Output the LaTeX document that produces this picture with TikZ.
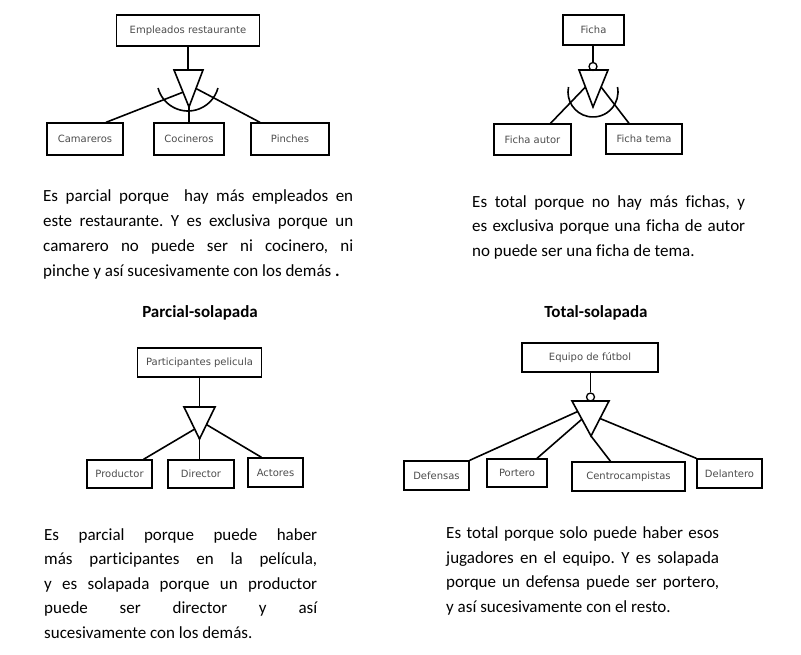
\documentclass[tikz,border=0pt]{standalone}
\usepackage{fontspec}
\setmainfont{Carlito}[Ligatures=NoCommon]
\newfontfamily\cajafont{DejaVu Sans}
\usetikzlibrary{calc}
\frenchspacing

\begin{document}
\begin{tikzpicture}[
    x=1pt, y=-1pt,
    caja/.style={rectangle, draw=black, line width=1.3pt, inner sep=0pt,
        font=\cajafont\fontsize{10}{12}\selectfont, text=black!70},
    linea/.style={line width=1.6pt},
    aro/.style={circle, draw=black, line width=1.3pt, inner sep=0pt, minimum size=8pt},
    texto/.style={anchor=base west, inner sep=0pt, align=justify, text width=273pt,
        font=\fontsize{17}{24.5}\selectfont, text=black,
        execute at begin node={\tolerance=10000 \hyphenpenalty=10000\relax}},
    titulo/.style={anchor=base, inner sep=0pt, font=\bfseries\fontsize{17}{20}\selectfont}
    ]
\useasboundingbox (0,0) rectangle (801,655);

%Parcial-exclusiva
\node[caja, minimum width=143pt, minimum height=31pt] (emp) at (188,30.5) {Empleados restaurante};
\node[caja, minimum width=76pt, minimum height=32pt] (cam) at (85,139) {Camareros};
\node[caja, minimum width=70pt, minimum height=32pt] (coc) at (189,139) {Cocineros};
\node[caja, minimum width=78pt, minimum height=32pt] (pin) at (290,139) {Pinches};
\coordinate (t1l) at (174,70);
\coordinate (t1r) at (203,70);
\coordinate (t1a) at (189,107);
\coordinate (a1) at (188,80);
\draw[linea] (t1l) -- (t1r) -- (t1a) -- cycle;
\draw[linea] (emp.south) -- (emp.south |- t1l);
\draw[linea] ([shift={(165:31)}]a1) arc[start angle=165, end angle=15, radius=31];
\draw[linea] ([xshift=21pt]cam.north) -- ($(t1l)!0.6!(t1a)$);
\draw[linea] (t1a |- coc.north) -- (t1a);
\draw[linea] ([xshift=-30pt]pin.north) -- ($(t1r)!0.5!(t1a)$);

%Total-exclusiva
\node[caja, minimum width=61pt, minimum height=30pt] (fic) at (593.5,30) {Ficha};
\node[caja, minimum width=77pt, minimum height=31pt] (aut) at (532.5,139.5) {Ficha autor};
\node[caja, minimum width=76pt, minimum height=30pt] (tem) at (644,139) {Ficha tema};
\node[aro] (o1) at (593,66.5) {};
\coordinate (t2l) at (579,70);
\coordinate (t2r) at (608,70);
\coordinate (t2a) at (593,107);
\coordinate (a2) at (593,92);
\draw[linea] (t2l) -- (t2r) -- (t2a) -- cycle;
\draw[linea] (fic.south -| o1) -- (o1.north);
\draw[linea] ([shift={(191.5:25)}]a2) arc[start angle=191.5, end angle=-11.5, radius=25];
\draw[linea] ([xshift=18pt]aut.north) -- ($(t2l)!0.46!(t2a)$);
\draw[linea] ([xshift=-15pt]tem.north) -- ($(t2r)!0.46!(t2a)$);

%Parcial-solapada
\node[caja, minimum width=124pt, minimum height=29pt] (par) at (199.5,362.5) {Participantes pelicula};
\node[caja, minimum width=65pt, minimum height=28pt] (pro) at (119.5,474) {Productor};
\node[caja, minimum width=66pt, minimum height=28pt] (dir) at (201,474) {Director};
\node[caja, minimum width=55pt, minimum height=29pt] (act) at (275.5,472.5) {Actores};
\coordinate (t3l) at (184,407);
\coordinate (t3r) at (215,407);
\coordinate (t3a) at (199.5,439);
\draw[linea] (t3l) -- (t3r) -- (t3a) -- cycle;
\draw[linea] (par.south) -- (par.south |- t3l);
\draw[linea] ([xshift=24pt]pro.north) -- ($(t3l)!0.69!(t3a)$);
\draw[linea] (t3a |- dir.north) -- (t3a);
\draw[linea] ([xshift=-14pt]act.north) -- ($(t3r)!0.55!(t3a)$);

%Total-solapada
\node[caja, minimum width=136pt, minimum height=29pt] (equ) at (590,357.5) {Equipo de fútbol};
\node[caja, minimum width=65pt, minimum height=29pt] (def) at (436.5,475.5) {Defensas};
\node[caja, minimum width=60pt, minimum height=28pt] (por) at (517,473) {Portero};
\node[caja, minimum width=113pt, minimum height=29pt] (cen) at (628.5,476.5) {Centrocampistas};
\node[caja, minimum width=65pt, minimum height=29pt] (del) at (729.5,473.5) {Delantero};
\node[aro] (o2) at (590.5,397) {};
\coordinate (t4l) at (572,401);
\coordinate (t4r) at (609,401);
\coordinate (t4a) at (591,436);
\draw[linea] (t4l) -- (t4r) -- (t4a) -- cycle;
\draw[linea] (equ.south -| o2) -- (o2.north);
\draw[linea] (def.north east) -- ($(t4l)!0.3!(t4a)$);
\draw[linea] ([xshift=20pt]por.north) -- ($(t4l)!0.52!(t4a)$);
\draw[linea] ([xshift=-18pt]cen.north) -- (t4a);
\draw[linea] (del.north west) -- ($(t4r)!0.5!(t4a)$);

%textos
\node[texto, text width=310pt, font=\fontsize{17}{25}\selectfont] (p1) at (43,201.5)
    {Es parcial porque\ \ hay más empleados en\linebreak
     este restaurante. Y es exclusiva porque un\linebreak
     camarero no puede ser ni cocinero, ni\linebreak
     pinche y así sucesivamente con los demás \textbf{.}};
\node[texto] (p2) at (472,207.5)
    {Es total porque no hay más fichas, y\linebreak
     es exclusiva porque una ficha de autor\linebreak
     no puede ser una ficha de tema.};
\node[titulo] (h1) at (200,317) {Parcial-solapada};
\node[titulo] (h2) at (596,317) {Total-solapada};
\node[texto] (p3) at (44,540)
    {Es parcial porque puede haber\linebreak
     más participantes en la película,\linebreak
     y es solapada porque un productor\linebreak
     puede ser director y así\linebreak
     sucesivamente con los demás.};
\node[texto] (p4) at (446,538.5)
    {Es total porque solo puede haber esos\linebreak
     jugadores en el equipo. Y es solapada\linebreak
     porque un defensa puede ser portero,\linebreak
     y así sucesivamente con el resto.};
\end{tikzpicture}
\end{document}
